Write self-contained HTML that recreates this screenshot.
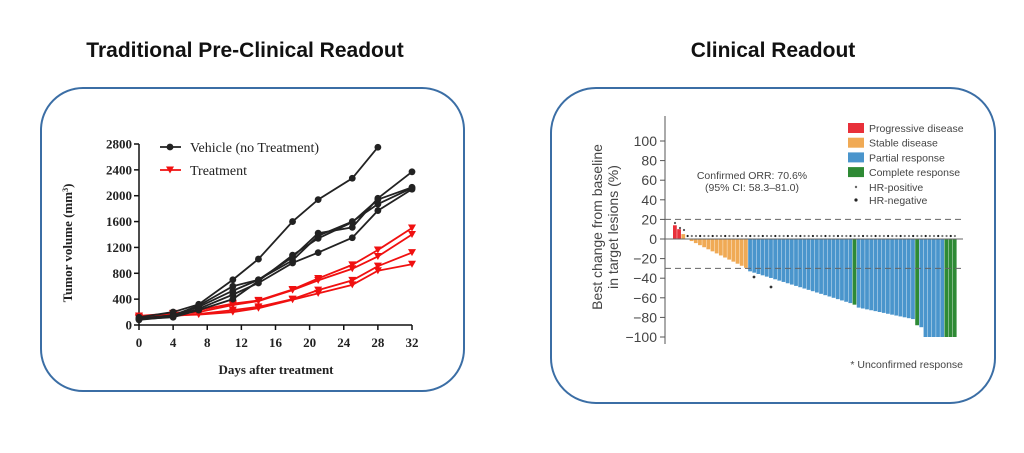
<!DOCTYPE html>
<html><head><meta charset="utf-8"><style>
html,body{margin:0;padding:0;background:#fff;width:1024px;height:453px;overflow:hidden}
svg{display:block}
</style></head><body>
<svg id="s" width="1024" height="453" viewBox="0 0 1024 453" xmlns="http://www.w3.org/2000/svg" font-family="Liberation Sans, sans-serif">
<text x="245" y="57" text-anchor="middle" font-size="21" font-weight="bold" fill="#111">Traditional Pre-Clinical Readout</text>
<text x="773" y="57" text-anchor="middle" font-size="21" font-weight="bold" fill="#111">Clinical Readout</text>
<rect x="41" y="88" width="423" height="303" rx="42" fill="none" stroke="#3b6ea5" stroke-width="2"/>
<rect x="551" y="88" width="444" height="315" rx="45" fill="none" stroke="#3b6ea5" stroke-width="2"/>
<g id="left" font-family="Liberation Serif, serif" font-weight="bold" fill="#222"></g>
<g id="right" font-family="Liberation Sans, sans-serif" fill="#444"></g>
</svg>
<script>
const NS="http://www.w3.org/2000/svg";
function el(p,t,a,txt){const e=document.createElementNS(NS,t);for(const k in a)e.setAttribute(k,a[k]);if(txt!=null)e.textContent=txt;p.appendChild(e);return e;}
// LEFT
const L=document.getElementById('left');
const X=d=>139+d*(412-139)/32, Y=v=>325-v*(181/2800);
el(L,'line',{x1:139,y1:144,x2:139,y2:325,stroke:'#111','stroke-width':1.5});
el(L,'line',{x1:139,y1:325,x2:412,y2:325,stroke:'#111','stroke-width':1.5});
for(let v=0;v<=2800;v+=400){el(L,'line',{x1:134,y1:Y(v),x2:139,y2:Y(v),stroke:'#111','stroke-width':1.5});el(L,'text',{x:132,y:Y(v)+4.5,'text-anchor':'end','font-size':13},v);}
for(let d=0;d<=32;d+=4){el(L,'line',{x1:X(d),y1:325,x2:X(d),y2:330,stroke:'#111','stroke-width':1.5});el(L,'text',{x:X(d),y:347,'text-anchor':'middle','font-size':13},d);}
el(L,'text',{x:276,y:374,'text-anchor':'middle','font-size':13},'Days after treatment');
const yl=el(L,'text',{x:0,y:0,'text-anchor':'middle','font-size':13,transform:'translate(72 243) rotate(-90)'});
yl.innerHTML='Tumor volume (mm<tspan baseline-shift="super" font-size="8">3</tspan>)';
const days=[0,4,7,11,14,18,21,25,28,32];
const blk=[[120,200,320,700,1020,1600,1940,2270,2750],[100,150,300,600,700,1050,1420,1510,1960,2370],[100,150,280,530,700,1000,1380,1600,1870,2120],[80,130,250,470,650,960,1120,1350,1770,2100],[90,120,230,400,680,1080,1340,1590,1940,2130]];
const red=[[140,180,230,330,380,550,720,930,1160,1500],[120,170,200,310,370,540,690,870,1060,1400],[100,140,170,230,280,400,540,690,910,1120],[110,150,160,200,260,390,490,620,840,940]];
function tri(g,x,y,c){el(g,'path',{d:`M${x-4} ${y-3.5}L${x+4} ${y-3.5}L${x} ${y+3.5}Z`,fill:c});}
red.forEach(s=>{el(L,'polyline',{points:s.map((v,i)=>X(days[i])+','+Y(v)).join(' '),fill:'none',stroke:'#f01010','stroke-width':1.8});s.forEach((v,i)=>tri(L,X(days[i]),Y(v),'#f01010'));});
blk.forEach(s=>{el(L,'polyline',{points:s.map((v,i)=>X(days[i])+','+Y(v)).join(' '),fill:'none',stroke:'#222','stroke-width':1.8});s.forEach((v,i)=>el(L,'circle',{cx:X(days[i]),cy:Y(v),r:3.4,fill:'#222'}));});
el(L,'line',{x1:160,y1:147,x2:181,y2:147,stroke:'#222','stroke-width':1.8});el(L,'circle',{cx:170,cy:147,r:3.4,fill:'#222'});
el(L,'text',{x:190,y:152,'font-size':14,'font-weight':'normal'},'Vehicle (no Treatment)');
el(L,'line',{x1:160,y1:170,x2:181,y2:170,stroke:'#f01010','stroke-width':1.8});tri(L,170,170,'#f01010');
el(L,'text',{x:190,y:175,'font-size':14,'font-weight':'normal'},'Treatment');
// RIGHT
const R=document.getElementById('right');
const YR=v=>239-v*0.98;
el(R,'line',{x1:665,y1:116,x2:665,y2:344,stroke:'#555','stroke-width':1});
for(let v=-100;v<=100;v+=20){el(R,'line',{x1:660,y1:YR(v),x2:665,y2:YR(v),stroke:'#555'});el(R,'text',{x:657,y:YR(v)+5,'text-anchor':'end','font-size':14},v<0?'\u2212'+(-v):v);}
const yt=el(R,'text',{'text-anchor':'middle','font-size':14,transform:'translate(602 227) rotate(-90)'});
yt.innerHTML='<tspan x="0" dy="0">Best change from baseline</tspan><tspan x="0" dy="16">in target lesions (%)</tspan>';
const N=68,w=284/N;
for(let i=0;i<N;i++){let v,c='#4a95cc';
 if(i==0){v=14;c='#e8303a'}else if(i==1){v=10;c='#e8303a'}else if(i==2){v=5;c='#f0aa55'}
 else if(i<18){v=-(i-3)*2.1;c='#f0aa55'}
 else if(i<43){v=-33-(i-18)*1.35}
 else if(i==43){v=-67;c='#2e8a35'}
 else if(i<58){v=-70-(i-44)*0.9}
 else if(i==58){v=-88;c='#2e8a35'}
 else if(i==59){v=-90}
 else if(i<65){v=-100}
 else {v=-100;c='#2e8a35'}
 const x=673+i*w;const y0=YR(Math.max(v,0)),y1=YR(Math.min(v,0));
 el(R,'rect',{x:x,y:y0,width:w-0.4,height:Math.max(y1-y0,0.5),fill:c});
 if(i>=3)el(R,'circle',{cx:x+w/2,cy:236,r:1.1,fill:(i%3==0?'#222':'#777')});
}
el(R,'circle',{cx:675,cy:223,r:1.1,fill:'#555'});el(R,'circle',{cx:680,cy:228,r:1.1,fill:'#555'});el(R,'circle',{cx:684,cy:230,r:1.1,fill:'#555'});
el(R,'circle',{cx:754,cy:277,r:1.4,fill:'#333'});el(R,'circle',{cx:771,cy:287,r:1.4,fill:'#333'});
el(R,'line',{x1:665,y1:239,x2:963,y2:239,stroke:'#666'});
el(R,'line',{x1:665,y1:219.4,x2:963,y2:219.4,stroke:'#666','stroke-dasharray':'6 4'});
el(R,'line',{x1:665,y1:268.4,x2:963,y2:268.4,stroke:'#666','stroke-dasharray':'6 4'});
el(R,'text',{x:752,y:179,'text-anchor':'middle','font-size':10.5},'Confirmed ORR: 70.6%');
el(R,'text',{x:752,y:191,'text-anchor':'middle','font-size':10.5},'(95% CI: 58.3\u201381.0)');
const lg=[['#e8303a','Progressive disease'],['#f0aa55','Stable disease'],['#4a95cc','Partial response'],['#2e8a35','Complete response']];
lg.forEach((l,i)=>{el(R,'rect',{x:848,y:123+i*14.7,width:16,height:10,fill:l[0]});el(R,'text',{x:869,y:132+i*14.7,'font-size':10.5},l[1]);});
el(R,'circle',{cx:856,cy:187,r:1.2,fill:'#666'});el(R,'text',{x:869,y:191,'font-size':10.5},'HR-positive');
el(R,'circle',{cx:856,cy:200,r:1.6,fill:'#222'});el(R,'text',{x:869,y:204,'font-size':10.5},'HR-negative');
el(R,'text',{x:963,y:368,'text-anchor':'end','font-size':10.5},'* Unconfirmed response');
</script>
</body></html>
